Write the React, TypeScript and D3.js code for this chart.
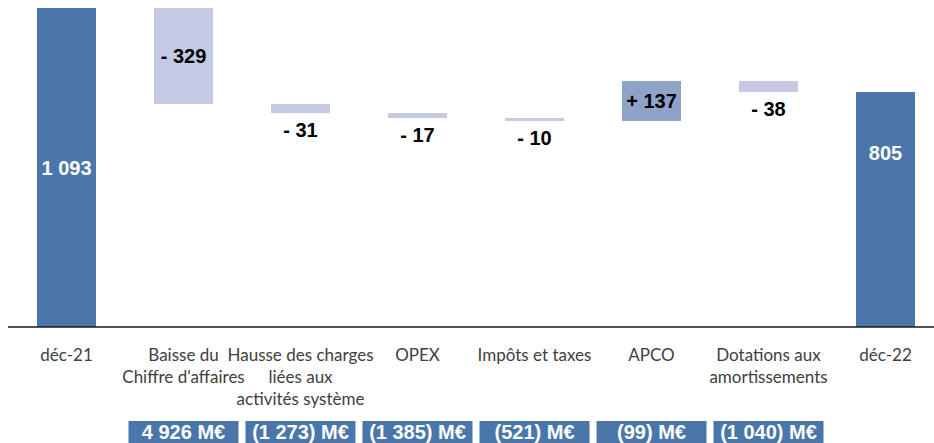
import React, { useEffect, useRef } from 'react';
import * as d3 from 'd3';

// categories and values (M€)
const categories = [
  ['déc-21'],
  ['Baisse du', "Chiffre d'affaires"],
  ['Hausse des charges', 'liées aux', 'activités système'],
  ['OPEX'],
  ['Impôts et taxes'],
  ['APCO'],
  ['Dotations aux', 'amortissements'],
  ['déc-22'],
];
const startValue = 1093;
const deltas = [-329, -31, -17, -10, 137, -38];
const endValue = 805;
const deltaLabels = ['- 329', '- 31', '- 17', '- 10', '+ 137', '- 38'];
const totalLabels = ['1 093', '805'];
// where the total labels sit, in value units
const totalLabelAt = [545, 596];
const boxLabels = ['4 926 M€', '(1 273) M€', '(1 385) M€', '(521) M€', '(99) M€', '(1 040) M€'];

const WaterfallChart = () => {
  const svgRef = useRef<SVGSVGElement>(null);

  useEffect(() => {
    const svgWidth = 934;
    const svgHeight = 443;
    const baseY = 327;

    const svg = d3.select(svgRef.current)
      .attr('width', svgWidth)
      .attr('height', svgHeight)
      .style('background', '#fff');

    svg.selectAll('*').remove();

    const keys = categories.map((_, i) => String(i));
    const x = d3.scaleBand()
      .domain(keys)
      .range([8, 944])
      .paddingInner(0.496)
      .paddingOuter(0.248);

    const y = d3.scaleLinear()
      .domain([0, startValue])
      .range([baseY, 8]);

    // build waterfall steps
    type Step = { key: string; y0: number; y1: number; kind: string };
    const steps: Step[] = [{ key: '0', y0: 0, y1: startValue, kind: 'total' }];
    let running = startValue;
    deltas.forEach((d, i) => {
      steps.push({ key: String(i + 1), y0: running, y1: running + d, kind: d < 0 ? 'down' : 'up' });
      running += d;
    });
    steps.push({ key: String(deltas.length + 1), y0: 0, y1: endValue, kind: 'total' });

    const color: Record<string, string> = { total: '#4a76aa', down: '#c5cae4', up: '#8fa3c9' };

    svg.append('g')
      .selectAll('rect')
      .data(steps)
      .join('rect')
      .attr('x', d => x(d.key)!)
      .attr('width', x.bandwidth())
      .attr('y', d => y(Math.max(d.y0, d.y1)))
      .attr('height', d => Math.abs(y(d.y0) - y(d.y1)))
      .attr('fill', d => color[d.kind]);

    // baseline
    svg.append('line')
      .attr('x1', 8)
      .attr('x2', svgWidth)
      .attr('y1', baseY)
      .attr('y2', baseY)
      .attr('stroke', '#1a1a1a')
      .attr('stroke-width', 1.5);

    const font = '"Liberation Sans", Arial, sans-serif';

    // total labels
    const totals = [steps[0], steps[steps.length - 1]];
    svg.append('g')
      .selectAll('text')
      .data(totals)
      .join('text')
      .attr('x', d => x(d.key)! + x.bandwidth() / 2)
      .attr('y', (d, i) => y(totalLabelAt[i]))
      .attr('text-anchor', 'middle')
      .attr('dominant-baseline', 'central')
      .attr('fill', '#fff')
      .style('font-family', font)
      .style('font-weight', 'bold')
      .style('font-size', '20px')
      .text((d, i) => totalLabels[i]);

    // delta labels: inside tall bars, below short ones
    const deltaSteps = steps.slice(1, steps.length - 1);
    svg.append('g')
      .selectAll('text')
      .data(deltaSteps)
      .join('text')
      .attr('x', d => x(d.key)! + x.bandwidth() / 2)
      .attr('y', d => {
        const top = y(Math.max(d.y0, d.y1));
        const bottom = y(Math.min(d.y0, d.y1));
        return bottom - top > 30 ? (top + bottom) / 2 : bottom + 17;
      })
      .attr('text-anchor', 'middle')
      .attr('dominant-baseline', 'central')
      .attr('fill', '#000')
      .style('font-family', font)
      .style('font-weight', 'bold')
      .style('font-size', '20px')
      .text((d, i) => deltaLabels[i]);

    // category labels
    const cat = svg.append('g')
      .selectAll('text')
      .data(categories)
      .join('text')
      .attr('x', (d, i) => x(String(i))! + x.bandwidth() / 2)
      .attr('y', 361)
      .attr('text-anchor', 'middle')
      .attr('fill', '#404040')
      .style('font-family', 'Lato, "Open Sans", sans-serif')
      .style('font-size', '17px');
    cat.selectAll('tspan')
      .data(d => d)
      .join('tspan')
      .attr('x', function () {
        return (this.parentNode as SVGTextElement).getAttribute('x');
      })
      .attr('dy', (d, i) => (i === 0 ? 0 : 22))
      .text(d => d);

    // bottom boxes
    const boxW = 110;
    const boxes = svg.append('g')
      .selectAll('g')
      .data(boxLabels)
      .join('g')
      .attr('transform', (d, i) => `translate(${x(String(i + 1))! + x.bandwidth() / 2}, 421)`);
    boxes.append('rect')
      .attr('x', -boxW / 2)
      .attr('width', boxW)
      .attr('height', 26)
      .attr('fill', '#4a76aa');
    boxes.append('text')
      .attr('y', 18)
      .attr('text-anchor', 'middle')
      .attr('fill', '#fff')
      .style('font-family', font)
      .style('font-weight', 'bold')
      .style('font-size', '20px')
      .text(d => d);
  }, []);

  return <svg ref={svgRef} style={{ position: 'absolute', left: 0, top: 0 }}></svg>;
};

export default function App() {
  return <WaterfallChart />;
}
